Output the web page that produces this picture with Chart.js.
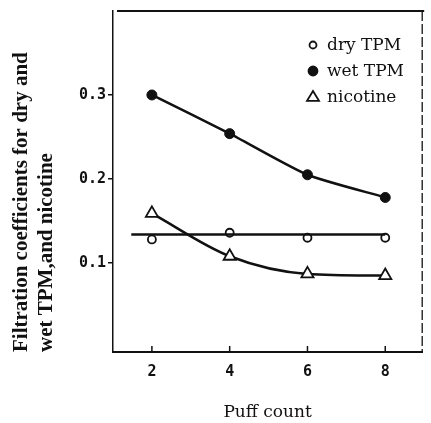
<!DOCTYPE html>
<html><head><meta charset="utf-8">
<script src="https://cdn.jsdelivr.net/npm/chart.js@4.4.1/dist/chart.umd.min.js"></script>
<style>html,body{margin:0;padding:0;background:#fff}#wrap{width:431px;height:423px;position:relative}</style>
</head><body><div id="wrap"><canvas id="c"></canvas></div>
<script>
const puffCounts = [2, 4, 6, 8];
const dryTPM = [0.128, 0.136, 0.130, 0.130];
const wetTPM = [0.300, 0.254, 0.205, 0.178];
const nicotine = [0.159, 0.108, 0.087, 0.085];
const dryFitX = [1.47, 8];
const dryFitY = [0.134, 0.134];
const xTicks = [2, 4, 6, 8];
const yTicks = [0.1, 0.2, 0.3];
const seriesLabels = ['dry TPM', 'wet TPM', 'nicotine'];
const xTitle = 'Puff count';
const yTitle = ['Filtration coefficients for dry and', 'wet TPM,and nicotine'];

const ink = '#111';
const pts = (xs, ys) => xs.map((x, i) => ({x: x, y: ys[i]}));

const frame = {
  id: 'frame',
  afterDatasetsDraw(chart) {
    const {ctx, chartArea: a, scales: {x}} = chart;
    ctx.save();
    ctx.strokeStyle = ink;
    ctx.lineWidth = 2;
    ctx.beginPath(); ctx.moveTo(a.left + 4, a.top); ctx.lineTo(a.right + 2, a.top); ctx.stroke();
    ctx.lineWidth = 1.3;
    ctx.setLineDash([10, 3]);
    ctx.beginPath(); ctx.moveTo(a.right, a.top); ctx.lineTo(a.right, a.bottom); ctx.stroke();
    ctx.setLineDash([]);
    ctx.lineWidth = 1.5;
    xTicks.forEach(v => {
      const px = x.getPixelForValue(v);
      ctx.beginPath(); ctx.moveTo(px, a.bottom); ctx.lineTo(px, a.bottom - 6); ctx.stroke();
    });
    // legend
    const lx = 313, ly = [45, 71, 97];
    ctx.font = '17px "DejaVu Serif"';
    ctx.textBaseline = 'middle';
    const ds = [chart.data.datasets[1], chart.data.datasets[2], chart.data.datasets[3]];
    ds.forEach((d, i) => {
      ctx.fillStyle = d.pointBackgroundColor; ctx.strokeStyle = ink;
      ctx.lineWidth = 1.8;
      ctx.beginPath();
      if (d.pointStyle === 'triangle') {
        const r = 6;
        ctx.moveTo(lx, ly[i] - r); ctx.lineTo(lx + r, ly[i] + r * 0.65); ctx.lineTo(lx - r, ly[i] + r * 0.65); ctx.closePath();
      } else {
        ctx.arc(lx, ly[i], d.pointStyle === 'circle' && d.pointBackgroundColor === ink ? 4.5 : 3.5, 0, Math.PI * 2);
      }
      ctx.fill(); ctx.stroke();
      ctx.fillStyle = ink;
      ctx.fillText(d.label, lx + 14, ly[i] + 1);
    });
    ctx.restore();
  }
};

new Chart(document.getElementById('c'), {
  type: 'line',
  data: {
    datasets: [
      {label: 'dry fit', data: pts(dryFitX, dryFitY), borderColor: ink, borderWidth: 2.5, pointRadius: 0, showLine: true},
      {label: seriesLabels[0], data: pts(puffCounts, dryTPM), showLine: false, pointStyle: 'circle', pointRadius: 4,
       pointBackgroundColor: '#fff', pointBorderColor: ink, pointBorderWidth: 1.8, borderColor: ink},
      {label: seriesLabels[1], data: pts(puffCounts, wetTPM), borderColor: ink, borderWidth: 2.5, tension: 0.2,
       pointStyle: 'circle', pointRadius: 5, pointBackgroundColor: ink, pointBorderColor: ink, pointBorderWidth: 1},
      {label: seriesLabels[2], data: pts(puffCounts, nicotine), borderColor: ink, borderWidth: 2.5,
       cubicInterpolationMode: 'monotone', pointStyle: 'triangle', pointRadius: 7, pointBackgroundColor: '#fff', pointBorderColor: ink, pointBorderWidth: 1.8}
    ]
  },
  options: {
    responsive: true, maintainAspectRatio: false, animation: false,
    layout: {padding: {top: 7, right: 2, left: 0, bottom: 0}},
    plugins: {legend: {display: false}, tooltip: {enabled: false}},
    scales: {
      x: {
        type: 'linear', min: 1, max: 8.95,
        afterBuildTicks: s => { s.ticks = xTicks.map(v => ({value: v})); },
        grid: {drawOnChartArea: false, drawTicks: false},
        border: {display: true, color: ink, width: 2},
        ticks: {color: ink, font: {family: 'DejaVu Sans Mono', weight: 'bold', size: 15}, padding: 11},
        title: {display: true, text: xTitle, color: ink, font: {family: 'DejaVu Serif', size: 17}, padding: {top: 11, bottom: 0}},
        afterFit: s => { s.height = 71; }
      },
      y: {
        type: 'linear', min: -0.006, max: 0.4,
        afterBuildTicks: s => { s.ticks = yTicks.map(v => ({value: v})); },
        grid: {drawOnChartArea: false, drawTicks: true, tickLength: 5, color: ink, lineWidth: 1.5},
        border: {display: true, color: ink, width: 1.5, dash: [10, 3]},
        ticks: {color: ink, font: {family: 'DejaVu Sans Mono', weight: 'bold', size: 15}, padding: 2,
                callback: v => v.toFixed(1)},
        title: {display: true, text: yTitle, align: 'start', color: ink,
                font: {family: 'Liberation Serif', weight: 'bold', size: 21, lineHeight: 1.15}, padding: {top: 10, bottom: 0}},
        afterFit: s => { s.width = 113; }
      }
    }
  },
  plugins: [frame]
});
</script>
</body></html>
